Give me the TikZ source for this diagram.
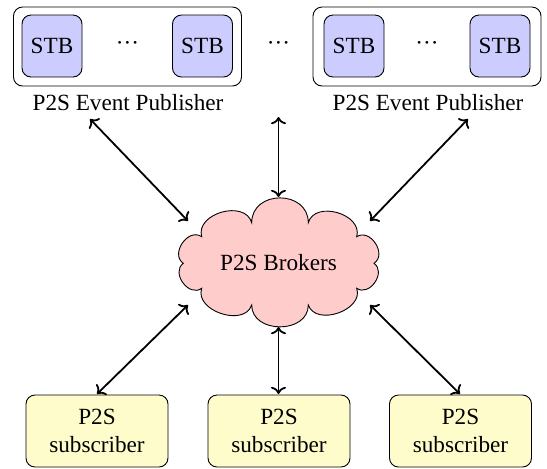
\documentclass[tikz,border=0pt]{standalone}
\usepackage{fontspec}
\setmainfont{Liberation Serif}
\usetikzlibrary{arrows.meta}
\begin{document}
\begin{tikzpicture}[x=0.5pt,y=-0.5pt,
  every node/.style={font=\fontsize{11.6pt}{13.6pt}\selectfont},
  group/.style={draw,rounded corners=4.5pt,line width=0.45pt,minimum width=114pt,minimum height=39.5pt,inner sep=0pt},
  stbbox/.style={draw,rounded corners=4.5pt,line width=0.45pt,fill=blue!20,minimum width=30pt,minimum height=31pt,inner sep=0pt},
  subbox/.style={draw,rounded corners=4.5pt,line width=0.45pt,fill=yellow!20,minimum width=71pt,minimum height=36pt,inner sep=0pt,align=center},
  cloudline/.style={draw,fill=red!20,line width=0.45pt},
  puff/.style={out=90,in=90,relative,looseness=#1},
  dotsnode/.style={inner sep=0pt},
  link/.style={<->,line width=0.9pt}]
\useasboundingbox (0,0) rectangle (547,468);
% publishers
\node[group] (g1) at (127.5,46.5) {};
\node[group] (g2) at (427,46.5) {};
\node[stbbox] (s1) at (52,46) {STB};
\node[stbbox] (s2) at (202.5,46) {STB};
\node[stbbox] (s3) at (354,46) {STB};
\node[stbbox] (s4) at (500,46) {STB};
\node[dotsnode] (d1) at (127.5,46) {···};
\node[dotsnode] (d2) at (427,46) {···};
\node[dotsnode] (d0) at (278.5,46) {···};
\node (l1) at (128,103) {P2S Event Publisher};
\node (l2) at (428,103) {P2S Event Publisher};
% broker cloud
\path[cloudline] (201.7,236.7)
  to[puff=1.2] (251.7,222.7)
  to[puff=1.5] (308.3,222.7)
  to[puff=1.2] (356.7,236.7)
  to[puff=1.3] (374,263.3)
  to[puff=1.3] (356.7,288.3)
  to[puff=1.15] (308.3,305)
  to[puff=1.32] (251.7,305)
  to[puff=1.15] (201.7,288.3)
  to[puff=1.3] (183.3,263.3)
  to[puff=1.3] cycle;
\node (cl) at (278.5,262.5) {P2S Brokers};
% subscribers
\node[subbox] (u1) at (97,431) {P2S\\subscriber};
\node[subbox] (u2) at (279,431) {P2S\\subscriber};
\node[subbox] (u3) at (460.5,431) {P2S\\subscriber};
% connector ends
\coordinate (p1) at (90,119);
\coordinate (p2) at (278.5,117);
\coordinate (p3) at (468,119);
\coordinate (c1) at (188,221);
\coordinate (c3) at (370,221);
\coordinate (c4) at (188,305);
\coordinate (c6) at (370,305);
\coordinate (b1) at (97,394);
\coordinate (b2) at (278.5,394);
\coordinate (b3) at (460,394);
\coordinate (c2) at (278.5,197);
\coordinate (c5) at (278.5,327);
\draw[link] (p1) -- (c1);
\draw[link] (p2) -- (c2);
\draw[link] (p3) -- (c3);
\draw[link] (c4) -- (b1);
\draw[link] (c5) -- (b2);
\draw[link] (c6) -- (b3);
\end{tikzpicture}
\end{document}
